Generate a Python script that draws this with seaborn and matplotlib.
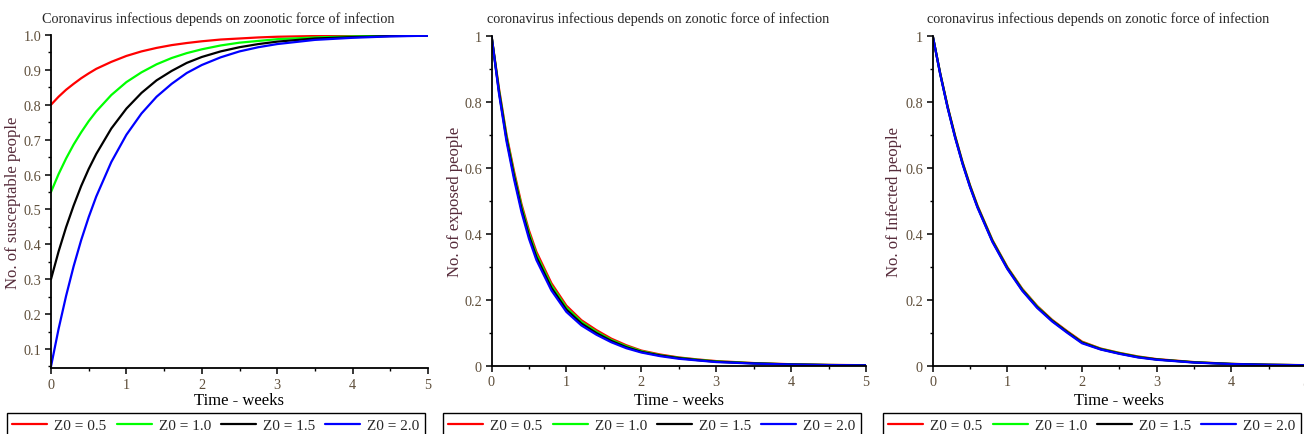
import numpy as np
import pandas as pd
import matplotlib
matplotlib.use('Agg')
import matplotlib.pyplot as plt
from matplotlib.ticker import MultipleLocator, FixedLocator
import seaborn as sns

# time grid (weeks)
t = [0, 0.1, 0.2, 0.3, 0.4, 0.5, 0.6, 0.8, 1.0, 1.2, 1.4, 1.6, 1.8, 2.0,
     2.25, 2.5, 2.75, 3.0, 3.5, 4.0, 4.5, 5.0]

z0_labels = ['Z0 = 0.5', 'Z0 = 1.0', 'Z0 = 1.5', 'Z0 = 2.0']
colors = ['#ff0000', '#00ff00', '#000000', '#0000ff']

# susceptible
s_05 = [0.800, 0.823, 0.843, 0.860, 0.876, 0.890, 0.903, 0.923, 0.940, 0.953, 0.963,
        0.971, 0.977, 0.982, 0.987, 0.990, 0.993, 0.995, 0.997, 0.998, 0.999, 1.000]
s_10 = [0.550, 0.601, 0.646, 0.686, 0.721, 0.753, 0.781, 0.828, 0.865, 0.893, 0.916,
        0.934, 0.948, 0.959, 0.970, 0.978, 0.983, 0.988, 0.993, 0.996, 0.998, 0.999]
s_15 = [0.300, 0.379, 0.449, 0.511, 0.567, 0.616, 0.659, 0.732, 0.789, 0.834, 0.870,
        0.897, 0.920, 0.937, 0.953, 0.965, 0.974, 0.981, 0.990, 0.994, 0.997, 0.998]
s_20 = [0.050, 0.157, 0.252, 0.337, 0.412, 0.478, 0.537, 0.636, 0.714, 0.775, 0.823,
        0.860, 0.891, 0.914, 0.936, 0.953, 0.965, 0.974, 0.986, 0.992, 0.996, 0.998]

# exposed
e_05 = [1.0, 0.84, 0.70, 0.59, 0.49, 0.41, 0.345, 0.25, 0.182, 0.138, 0.108, 0.082,
        0.062, 0.046, 0.034, 0.025, 0.019, 0.014, 0.008, 0.0045, 0.0025, 0.0015]
e_10 = [1.0, 0.835, 0.695, 0.582, 0.483, 0.402, 0.337, 0.243, 0.176, 0.133, 0.103, 0.078,
        0.059, 0.044, 0.032, 0.024, 0.018, 0.013, 0.0075, 0.004, 0.0022, 0.0013]
e_15 = [1.0, 0.83, 0.688, 0.575, 0.475, 0.394, 0.329, 0.236, 0.170, 0.128, 0.099, 0.075,
        0.056, 0.042, 0.031, 0.023, 0.017, 0.012, 0.007, 0.0038, 0.002, 0.0012]
e_20 = [1.0, 0.825, 0.68, 0.566, 0.466, 0.385, 0.320, 0.228, 0.163, 0.122, 0.094, 0.071,
        0.053, 0.040, 0.029, 0.021, 0.016, 0.011, 0.0065, 0.0035, 0.0018, 0.0010]

# infected
i_05 = [1.0, 0.887, 0.786, 0.697, 0.617, 0.547, 0.485, 0.381, 0.299, 0.233, 0.181, 0.139,
        0.105, 0.073, 0.052, 0.039, 0.028, 0.020, 0.011, 0.0056, 0.003, 0.0016]
i_10 = [1.0, 0.886, 0.784, 0.695, 0.615, 0.545, 0.483, 0.379, 0.297, 0.231, 0.179, 0.137,
        0.103, 0.071, 0.051, 0.038, 0.027, 0.019, 0.0105, 0.0054, 0.0028, 0.0015]
i_15 = [1.0, 0.885, 0.783, 0.693, 0.613, 0.543, 0.481, 0.377, 0.295, 0.229, 0.177, 0.136,
        0.102, 0.070, 0.050, 0.037, 0.026, 0.019, 0.010, 0.0052, 0.0027, 0.0014]
i_20 = [1.0, 0.884, 0.781, 0.691, 0.611, 0.541, 0.479, 0.375, 0.293, 0.227, 0.175, 0.134,
        0.100, 0.068, 0.049, 0.036, 0.025, 0.018, 0.0095, 0.005, 0.0026, 0.0013]

titles = ['Coronavirus infectious depends on zoonotic force of infection',
          'coronavirus infectious depends on zonotic force of infection',
          'coronavirus infectious depends on zonotic force of infection']
ylabels = ['No. of susceptable people', 'No. of exposed people', 'No. of Infected people']
panels = [[s_05, s_10, s_15, s_20], [e_05, e_10, e_15, e_20], [i_05, i_10, i_15, i_20]]

sns.set_style('ticks')
plt.rcParams['font.family'] = ['Liberation Serif', 'DejaVu Serif']

lab_col = '#562b3a'
tick_col = '#5e4e3a'

W, H = 1304, 435
fig = plt.figure(figsize=(W / 100, H / 100), dpi=100)

# axes boxes in pixels: left, right, top, bottom
boxes = [(51, 428, 36, 369), (491.5, 866, 36.7, 366.7), (932.7, 1306, 36.7, 366.7)]
leg_left = [7, 443, 883]
ylab_x = [13, 455, 894]

for k in range(3):
    l, r, tp, bt = boxes[k]
    ax = fig.add_axes([l / W, 1 - bt / H, (r - l) / W, (bt - tp) / H])
    df = pd.DataFrame({'t': t * 4,
                       'v': sum(panels[k], []),
                       'z': sum([[z] * len(t) for z in z0_labels], [])})
    sns.lineplot(data=df, x='t', y='v', hue='z', hue_order=z0_labels,
                 palette=dict(zip(z0_labels, colors)), errorbar=None,
                 linewidth=1.6, legend=False, ax=ax)
    ax.set_xlim(0, 5)
    if k == 0:
        ax.set_ylim(0.0455, 1.0)
        ax.yaxis.set_major_locator(FixedLocator([0.1, 0.2, 0.3, 0.4, 0.5, 0.6, 0.7, 0.8, 0.9, 1.0]))
        ax.set_yticklabels(['0.1', '0.2', '0.3', '0.4', '0.5', '0.6', '0.7', '0.8', '0.9', '1.0'])
        ax.yaxis.set_minor_locator(MultipleLocator(0.05))
    else:
        ax.set_ylim(0, 1.0)
        ax.yaxis.set_major_locator(FixedLocator([0, 0.2, 0.4, 0.6, 0.8, 1.0]))
        ax.set_yticklabels(['0', '0.2', '0.4', '0.6', '0.8', '1'])
        ax.yaxis.set_minor_locator(MultipleLocator(0.1))
    ax.xaxis.set_major_locator(FixedLocator([0, 1, 2, 3, 4, 5]))
    ax.set_xticklabels(['0', '1', '2', '3', '4', '5'])
    ax.xaxis.set_minor_locator(MultipleLocator(0.5))
    for s in ['top', 'right']:
        ax.spines[s].set_visible(False)
    for s in ['left', 'bottom']:
        ax.spines[s].set_linewidth(1.3)
        ax.spines[s].set_color('black')
    ax.tick_params(which='major', length=4, width=1.1, labelsize=10.3,
                   labelcolor=tick_col, color='black', pad=3)
    ax.tick_params(which='minor', length=2.5, width=1, color='black')

    ax.set_xlabel('Time - weeks', fontsize=12, color='black')
    ax.xaxis.set_label_coords(0.5, -(401 - bt) / (bt - tp))
    ax.xaxis.label.set_va('center')
    ax.set_ylabel(ylabels[k], fontsize=12, color=lab_col)
    ax.yaxis.set_label_coords((ylab_x[k] - l) / (r - l), 0.5)
    ax.yaxis.label.set_va('center')

    tx = (l + r) / 2 - 21
    ax.text((tx - l) / (r - l), 1 + (tp - 19) / (bt - tp), titles[k],
            transform=ax.transAxes, ha='center', va='center', fontsize=10.3)

    handles = [plt.Line2D([], [], color=c, linewidth=1.6) for c in colors]
    leg = ax.legend(handles, z0_labels, loc='upper left', ncol=4,
                    bbox_to_anchor=(leg_left[k] / W, 1 - 414 / H),
                    bbox_transform=fig.transFigure, fontsize=11,
                    frameon=True, fancybox=False, framealpha=1,
                    edgecolor='black', handlelength=2.3, handletextpad=0.45,
                    columnspacing=0.65, borderpad=0.35, borderaxespad=0)
    leg.get_frame().set_linewidth(1.0)

fig.savefig('out.png', dpi=100)
